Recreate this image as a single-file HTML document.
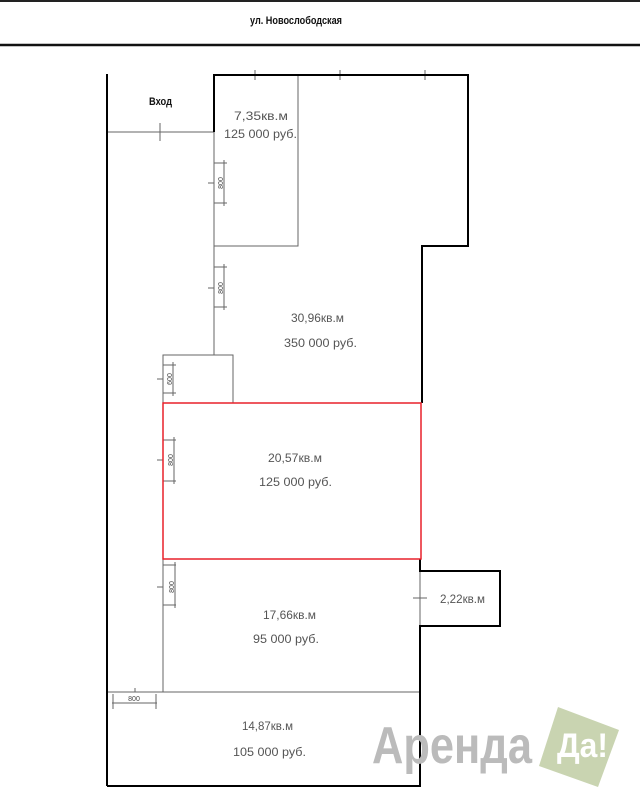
<!DOCTYPE html>
<html><head><meta charset="utf-8"><style>
html,body{margin:0;padding:0;background:#fff;}
svg{display:block;}
.t{font-family:"Liberation Sans",sans-serif;font-size:12px;fill:#555;}
.d{font-family:"Liberation Sans",sans-serif;font-size:7px;fill:#444;}
</style></head><body>
<svg width="640" height="800" viewBox="0 0 640 800" xmlns="http://www.w3.org/2000/svg">
<line x1="0" y1="1" x2="640" y2="1" stroke="#222" stroke-width="2"/>
<line x1="0" y1="45" x2="640" y2="45" stroke="#111" stroke-width="2.5"/>
<text x="296" y="24" text-anchor="middle" font-family="Liberation Sans, sans-serif" font-size="11" font-weight="bold" fill="#111" textLength="92" lengthAdjust="spacingAndGlyphs">ул. Новослободская</text>
<text x="149" y="105" font-family="Liberation Sans, sans-serif" font-size="11" font-weight="bold" fill="#111" textLength="23" lengthAdjust="spacingAndGlyphs">Вход</text>

<g stroke="#666" stroke-width="1" fill="none">
<line x1="107" y1="132" x2="214" y2="132"/>
<line x1="160" y1="123" x2="160" y2="141"/>
<polyline points="214,132 214,355"/>
<polyline points="298,75 298,246 214,246"/>
<polyline points="214,355 163,355 163,692"/>
<polyline points="214,355 233,355 233,403"/>
<line x1="107" y1="692" x2="420" y2="692"/>
<line x1="420" y1="559" x2="420" y2="626"/>
<line x1="413" y1="598" x2="427" y2="598"/>
<line x1="255" y1="70" x2="255" y2="80"/>
<line x1="340" y1="70" x2="340" y2="80"/>
<line x1="425" y1="70" x2="425" y2="80"/>
<g>
<line x1="214" y1="163" x2="227" y2="163"/><line x1="214" y1="203" x2="227" y2="203"/><line x1="224" y1="160" x2="224" y2="206"/><line x1="208" y1="183" x2="214" y2="183"/>
<line x1="214" y1="267" x2="227" y2="267"/><line x1="214" y1="307" x2="227" y2="307"/><line x1="224" y1="264" x2="224" y2="310"/><line x1="208" y1="288" x2="214" y2="288"/>
<line x1="163" y1="365" x2="176" y2="365"/><line x1="163" y1="393" x2="176" y2="393"/><line x1="173" y1="362" x2="173" y2="396"/><line x1="157" y1="379" x2="163" y2="379"/>
<line x1="163" y1="440" x2="176" y2="440"/><line x1="163" y1="481" x2="176" y2="481"/><line x1="174" y1="437" x2="174" y2="484"/><line x1="157" y1="460" x2="163" y2="460"/>
<line x1="163" y1="565" x2="176" y2="565"/><line x1="163" y1="605" x2="176" y2="605"/><line x1="175" y1="562" x2="175" y2="608"/><line x1="157" y1="587" x2="163" y2="587"/>
<line x1="112" y1="703" x2="157" y2="703"/><line x1="113" y1="694" x2="113" y2="709"/><line x1="156" y1="694" x2="156" y2="709"/><line x1="135" y1="688" x2="135" y2="692"/>
</g>
</g>
<g class="d">
<text transform="translate(224,183) rotate(-90)" text-anchor="middle" dy="-1">800</text>
<text transform="translate(224,288) rotate(-90)" text-anchor="middle" dy="-1">800</text>
<text transform="translate(173,379) rotate(-90)" text-anchor="middle" dy="-1">600</text>
<text transform="translate(174,460) rotate(-90)" text-anchor="middle" dy="-1">800</text>
<text transform="translate(175,587) rotate(-90)" text-anchor="middle" dy="-1">800</text>
<text x="134" y="701" text-anchor="middle">800</text>
</g>

<g stroke="#000" stroke-width="2" fill="none">
<line x1="107" y1="74" x2="107" y2="786"/>
<polyline points="214,132 214,75 468,75 468,246 422,246 422,403"/>
<polyline points="420,559 420,571 500,571 500,626 420,626 420,786 107,786"/>
</g>

<rect x="163" y="403" width="258" height="156" fill="none" stroke="#e8202a" stroke-width="1.5"/>

<g class="t">
<text x="234" y="120" textLength="54" lengthAdjust="spacingAndGlyphs">7,35кв.м</text>
<text x="224" y="138" textLength="73" lengthAdjust="spacingAndGlyphs">125 000 руб.</text>
<text x="291" y="322" textLength="53" lengthAdjust="spacingAndGlyphs">30,96кв.м</text>
<text x="284" y="347" textLength="73" lengthAdjust="spacingAndGlyphs">350 000 руб.</text>
<text x="268" y="462" textLength="54" lengthAdjust="spacingAndGlyphs">20,57кв.м</text>
<text x="259" y="486" textLength="73" lengthAdjust="spacingAndGlyphs">125 000 руб.</text>
<text x="263" y="619" textLength="53" lengthAdjust="spacingAndGlyphs">17,66кв.м</text>
<text x="253" y="643" textLength="66" lengthAdjust="spacingAndGlyphs">95 000 руб.</text>
<text x="242" y="730" textLength="51" lengthAdjust="spacingAndGlyphs">14,87кв.м</text>
<text x="233" y="756" textLength="73" lengthAdjust="spacingAndGlyphs">105 000 руб.</text>
<text x="440" y="603" textLength="45" lengthAdjust="spacingAndGlyphs">2,22кв.м</text>
</g>

<polygon points="558,707 619,730 598,787 539,766" fill="#c9d4b1"/>
<text x="372" y="763" font-family="Liberation Sans, sans-serif" font-size="52" font-weight="bold" fill="#bbbbbb" textLength="160" lengthAdjust="spacingAndGlyphs">Аренда</text>
<text x="557" y="757" font-family="Liberation Sans, sans-serif" font-size="34" font-weight="bold" fill="#fff" textLength="51" lengthAdjust="spacingAndGlyphs">Да!</text>
</svg>
</body></html>
